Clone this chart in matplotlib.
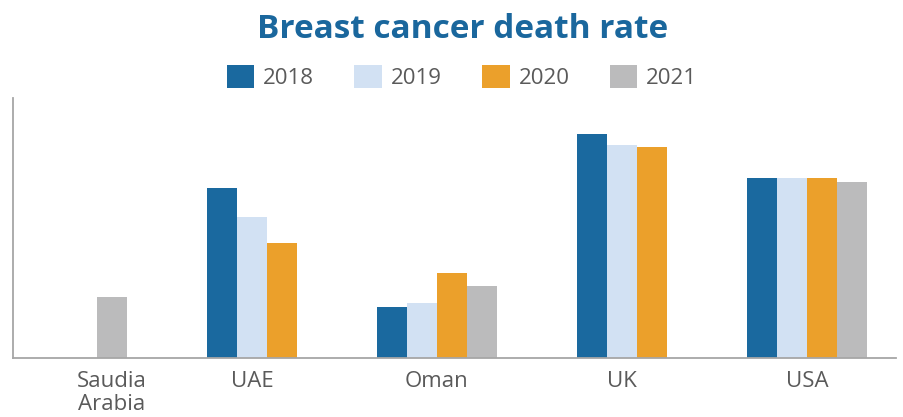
import numpy as np
import matplotlib.pyplot as plt
from matplotlib.patches import Patch

plt.rcParams["font.family"] = ["Open Sans", "DejaVu Sans"]

# data (NaN = no value for that year)
countries = ["Saudia\nArabia", "UAE", "Oman", "UK", "USA"]
years = ["2018", "2019", "2020", "2021"]
rate_2018 = [np.nan, 169.5, 50.5, 223.5, 179.5]
rate_2019 = [np.nan, 140.5, 54.5, 212.5, 179.5]
rate_2020 = [np.nan, 114.5, 84.5, 210.5, 179.5]
rate_2021 = [60.5, np.nan, 71.5, np.nan, 175.5]
colors = ["#1A699F", "#D2E1F3", "#EBA02B", "#BBBBBC"]

series = [rate_2018, rate_2019, rate_2020, rate_2021]

fig = plt.figure(figsize=(9.04, 4.17), dpi=100)
ax = fig.add_axes([13 / 904, (417 - 357.5) / 417, 883 / 904, 260 / 417])

# bars are packed per country (missing years leave no gap)
bar_w = 1.0
gap = 80 / 30
x = 84 / 30
centers = []
for i in range(len(countries)):
    start = x
    for s, c in zip(series, colors):
        v = s[i]
        if np.isnan(v):
            continue
        ax.bar(x + bar_w / 2, v, width=bar_w, color=c, linewidth=0)
        x += bar_w
    centers.append((start + x) / 2)
    x += gap

ax.set_xlim(0, 883 / 30)
ax.set_ylim(0, 260)
ax.set_yticks([])
ax.set_xticks(centers)
ax.set_xticklabels(countries, fontsize=16, color="#5A5A5A", linespacing=1.12)
ax.tick_params(axis="x", length=0, pad=10)

for side in ["top", "right"]:
    ax.spines[side].set_visible(False)
for side in ["left", "bottom"]:
    ax.spines[side].set_color("#A6A6A6")
    ax.spines[side].set_linewidth(1.3)

fig.text(463 / 904, 1 - 38.5 / 417, "Breast cancer death rate", ha="center",
         va="baseline", fontsize=24, fontweight="bold", color="#1A679D")

handles = [Patch(facecolor=c, edgecolor="none") for c in colors]
fig.legend(handles, years, loc="center", bbox_to_anchor=(462 / 904, 1 - 77 / 417),
           ncol=4, frameon=False, fontsize=16, labelcolor="#5A5A5A",
           handlelength=1.25, handleheight=1.25, handletextpad=0.4,
           columnspacing=1.8, borderpad=0, borderaxespad=0)

fig.savefig("out.png", dpi=100)
